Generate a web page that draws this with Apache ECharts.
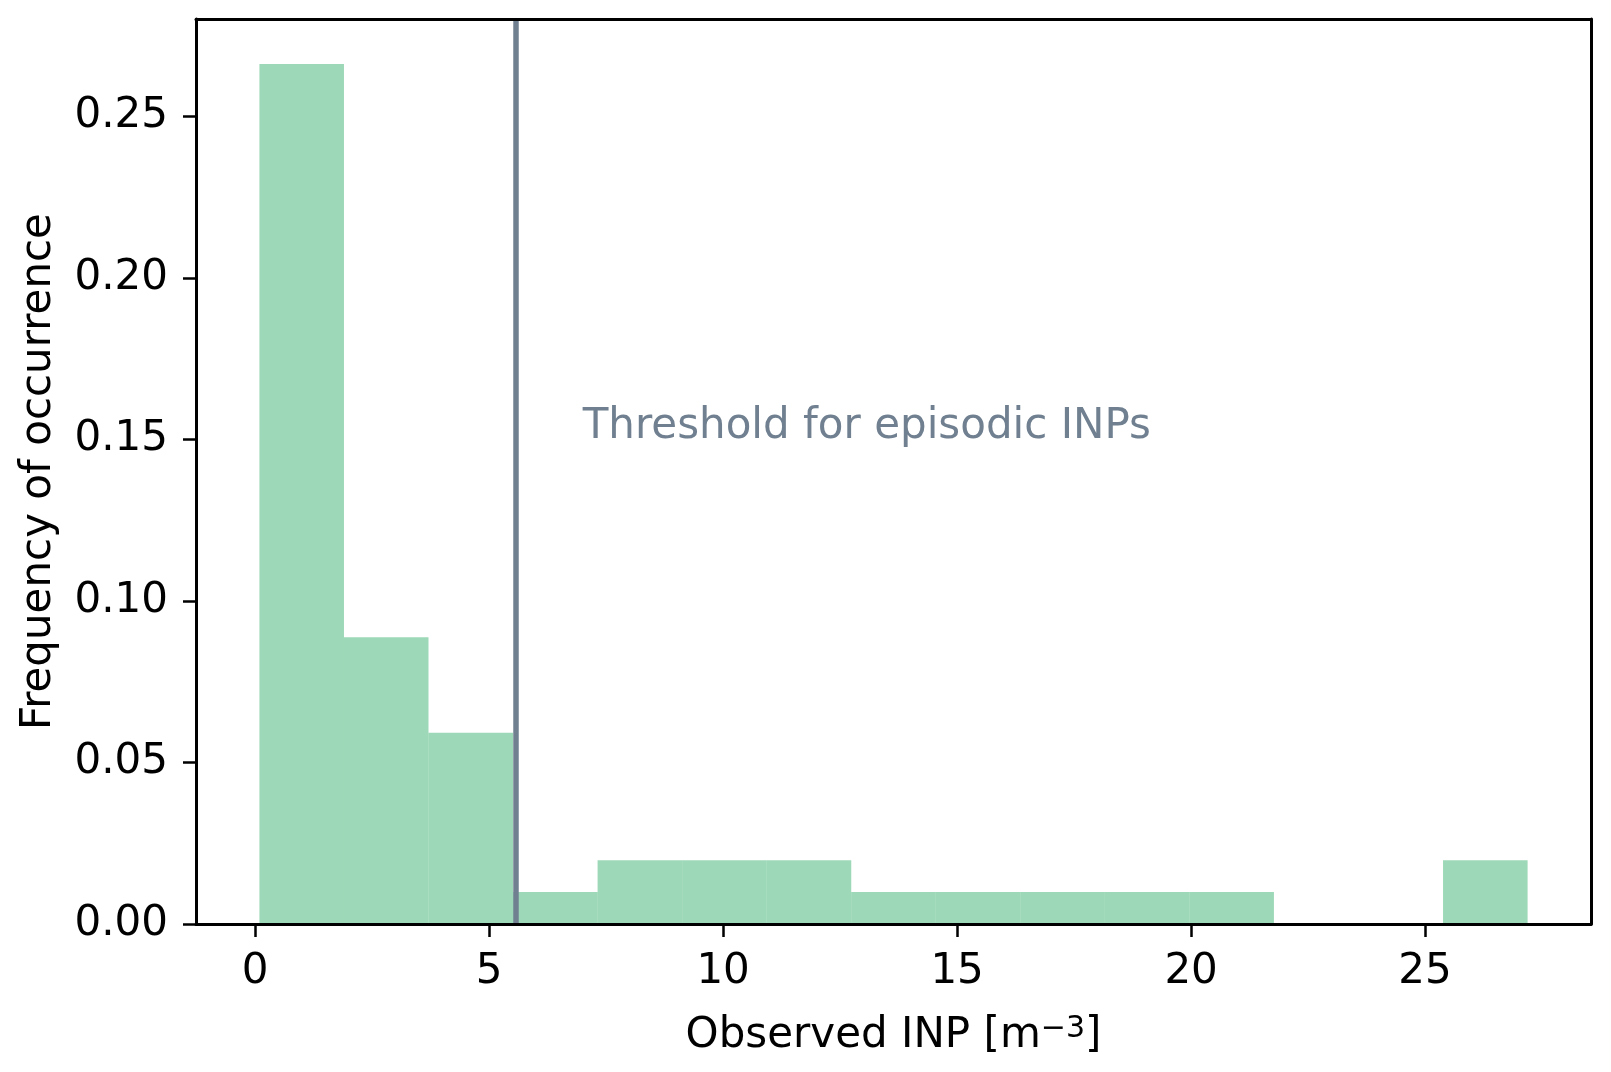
<!DOCTYPE html>
<html>
<head>
<meta charset="utf-8">
<script src="https://cdn.jsdelivr.net/npm/echarts@6/dist/echarts.min.js"></script>
<style>
html,body{margin:0;padding:0;background:#fff;}
#chart{width:1611px;height:1072px;}
</style>
</head>
<body>
<div id="chart"></div>
<script>
// Histogram bin edges (Observed INP, m^-3) and bar heights (frequency density)
var binEdges = [0.092, 1.899, 3.705, 5.512, 7.318, 9.125, 10.931, 12.738, 14.544, 16.351, 18.157, 19.964, 21.770, 23.577, 25.383, 27.190];
var frequency = [0.2663, 0.0888, 0.0592, 0.0099, 0.0197, 0.0197, 0.0197, 0.0099, 0.0099, 0.0099, 0.0099, 0.0099, 0, 0, 0.0197];
var threshold = 5.577;
var annotation = { x: 7, y: 0.15, text: 'Threshold for episodic INPs' };
var xTicks = [0, 5, 10, 15, 20, 25];
var yTicks = [0, 0.05, 0.10, 0.15, 0.20, 0.25];
var xRange = [-1.263, 28.545];
var yRange = [0, 0.2802];

var FONT = 'DejaVu Sans';
var FS = 42;
var barData = frequency.map(function (h, i) { return [binEdges[i], binEdges[i + 1], h]; });

var chart = echarts.init(document.getElementById('chart'), null, { renderer: 'canvas' });
var axisLineStyle = { color: '#000', width: 3 };
chart.setOption({
  animation: false,
  backgroundColor: '#fff',
  grid: { left: 196, top: 19, width: 1395, height: 905, containLabel: false },
  xAxis: [{
    type: 'value', position: 'bottom', min: xRange[0], max: xRange[1], z: 5,
    axisLine: { show: true, onZero: false, lineStyle: axisLineStyle },
    axisTick: { show: true, length: 13, inside: false, customValues: xTicks, lineStyle: { color: '#000', width: 2.5 } },
    axisLabel: { show: true, customValues: xTicks, margin: 27, color: '#000', fontFamily: FONT, fontSize: FS },
    splitLine: { show: false },
    name: '{n|Observed INP [m}{s|\u22123}{n|]}', nameLocation: 'middle', nameGap: 90,
    nameTextStyle: {
      color: '#000', fontFamily: FONT, fontSize: FS,
      rich: {
        n: { color: '#000', fontFamily: FONT, fontSize: FS, lineHeight: 44 },
        s: { color: '#000', fontFamily: FONT, fontSize: 30, lineHeight: 24, verticalAlign: 'top' }
      }
    }
  }, {
    type: 'value', position: 'top', min: xRange[0], max: xRange[1], z: 5,
    axisLine: { show: true, onZero: false, lineStyle: axisLineStyle },
    axisTick: { show: false }, axisLabel: { show: false }, splitLine: { show: false }
  }],
  yAxis: [{
    type: 'value', position: 'left', min: yRange[0], max: yRange[1], z: 5,
    axisLine: { show: true, onZero: false, lineStyle: axisLineStyle },
    axisTick: { show: true, length: 13, customValues: yTicks, lineStyle: { color: '#000', width: 2.5 } },
    axisLabel: { show: true, customValues: yTicks, margin: 28, color: '#000', fontFamily: FONT, fontSize: FS,
      formatter: function (v) { return v.toFixed(2); } },
    splitLine: { show: false },
    name: 'Frequency of occurrence', nameLocation: 'middle', nameRotate: 90, nameGap: 136,
    nameTextStyle: { color: '#000', fontFamily: FONT, fontSize: FS }
  }, {
    type: 'value', position: 'right', min: yRange[0], max: yRange[1], z: 5,
    axisLine: { show: true, onZero: false, lineStyle: axisLineStyle },
    axisTick: { show: false }, axisLabel: { show: false }, splitLine: { show: false }
  }],
  series: [{
    type: 'custom',
    xAxisIndex: 0, yAxisIndex: 0,
    data: barData,
    encode: { x: [0, 1], y: 2 },
    renderItem: function (params, api) {
      var p0 = api.coord([api.value(0), 0]);
      var p1 = api.coord([api.value(1), api.value(2)]);
      return {
        type: 'rect',
        shape: { x: p0[0], y: p1[1], width: p1[0] - p0[0], height: p0[1] - p1[1] },
        style: { fill: 'rgba(60,179,113,0.5)' }
      };
    },
    markLine: {
      silent: true, symbol: 'none', animation: false,
      label: { show: false },
      lineStyle: { color: '#708090', width: 5.5, type: 'solid' },
      data: [{ xAxis: threshold }]
    },
    z: 2
  }, {
    type: 'custom',
    xAxisIndex: 0, yAxisIndex: 0,
    data: [[annotation.x, annotation.y]],
    renderItem: function (params, api) {
      var p = api.coord([api.value(0), api.value(1)]);
      return {
        type: 'text', x: p[0], y: p[1] - 12,
        style: { text: annotation.text, fill: '#708090', fontFamily: FONT, fontSize: FS, align: 'left', verticalAlign: 'middle' }
      };
    },
    z: 3
  }]
});
</script>
</body>
</html>
